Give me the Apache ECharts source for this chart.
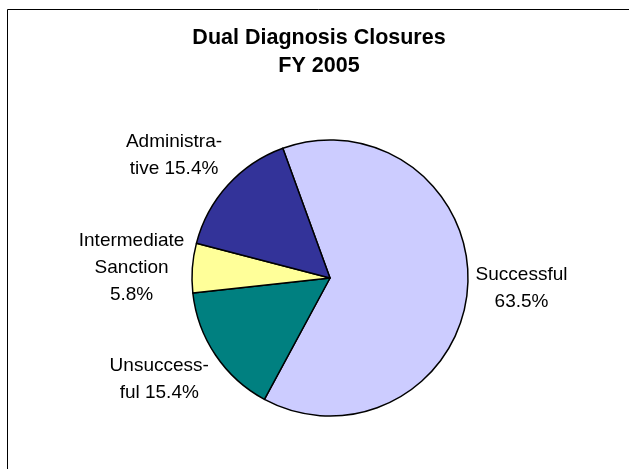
<!DOCTYPE html>
<html>
<head>
<meta charset="utf-8">
<script src="https://cdn.jsdelivr.net/npm/echarts@6/dist/echarts.min.js"></script>
<style>
html,body{margin:0;padding:0;background:#fff;}
#chart{width:629px;height:469px;}
</style>
</head>
<body>
<div id="chart"></div>
<script>
const categories = ['Successful', 'Unsuccessful', 'Intermediate Sanction', 'Administrative'];
const labelPrefixes = ['Successful\n', 'Unsuccess-\nful ', 'Intermediate\nSanction\n', 'Administra-\ntive '];
const values = [63.5, 15.4, 5.8, 15.4];
const colors = ['#CCCCFF', '#008080', '#FFFF99', '#333399'];
const titleLines = ['Dual Diagnosis Closures', 'FY 2005'];

const CX = 330, CY = 278, R = 138, START = 110, LABEL_GAP = 8;
const total = values.reduce((a, b) => a + b, 0);
const mids = [];
let cum = 0;
values.forEach(v => { mids.push(START - 360 * (cum + v / 2) / total); cum += v; });
const clamp = v => Math.max(-1, Math.min(1, v));

const chart = echarts.init(document.getElementById('chart'), null, {renderer: 'canvas'});
chart.setOption({
  animation: false,
  backgroundColor: '#fff',
  textStyle: {fontFamily: 'Liberation Sans, Arial, sans-serif'},
  title: {
    text: titleLines.join('\n'),
    left: 319, top: 24, padding: 0,
    textAlign: 'center',
    textStyle: {fontSize: 21.5, fontWeight: 'bold', color: '#000', lineHeight: 28, fontFamily: 'Liberation Sans, Arial, sans-serif'}
  },
  graphic: [{
    type: 'rect', silent: true,
    shape: {x: 7.5, y: 9.5, width: 700, height: 600},
    style: {fill: 'none', stroke: '#000', lineWidth: 1}
  }],
  series: [{
    type: 'pie',
    center: [CX, CY],
    radius: R,
    startAngle: START,
    clockwise: true,
    avoidLabelOverlap: false,
    silent: true,
    data: categories.map((c, i) => ({name: c, value: values[i], itemStyle: {color: colors[i]}})),
    itemStyle: {borderColor: '#000', borderWidth: 1.5},
    label: {
      show: true,
      position: 'outside',
      fontSize: 19,
      lineHeight: 27,
      color: '#000',
      fontFamily: 'Liberation Sans, Arial, sans-serif',
      formatter: p => labelPrefixes[p.dataIndex] + p.value.toFixed(1) + '%'
    },
    labelLine: {show: false},
    labelLayout: function (params) {
      const a = mids[params.dataIndex] * Math.PI / 180;
      const d = R + LABEL_GAP;
      const ax = CX + d * Math.cos(a), ay = CY - d * Math.sin(a);
      const w = params.labelRect.width, h = params.labelRect.height;
      const s = Math.sin(a);
      const fx = clamp(Math.cos(a) * 1.8);
      const fy = -Math.sign(s) * Math.min(1, Math.max(0, Math.abs(s) - 0.1) * 1.6);
      return {
        x: ax + fx * w / 2,
        y: ay + fy * h / 2,
        align: 'center',
        verticalAlign: 'middle'
      };
    },
    emphasis: {disabled: true}
  }]
});
</script>
</body>
</html>
